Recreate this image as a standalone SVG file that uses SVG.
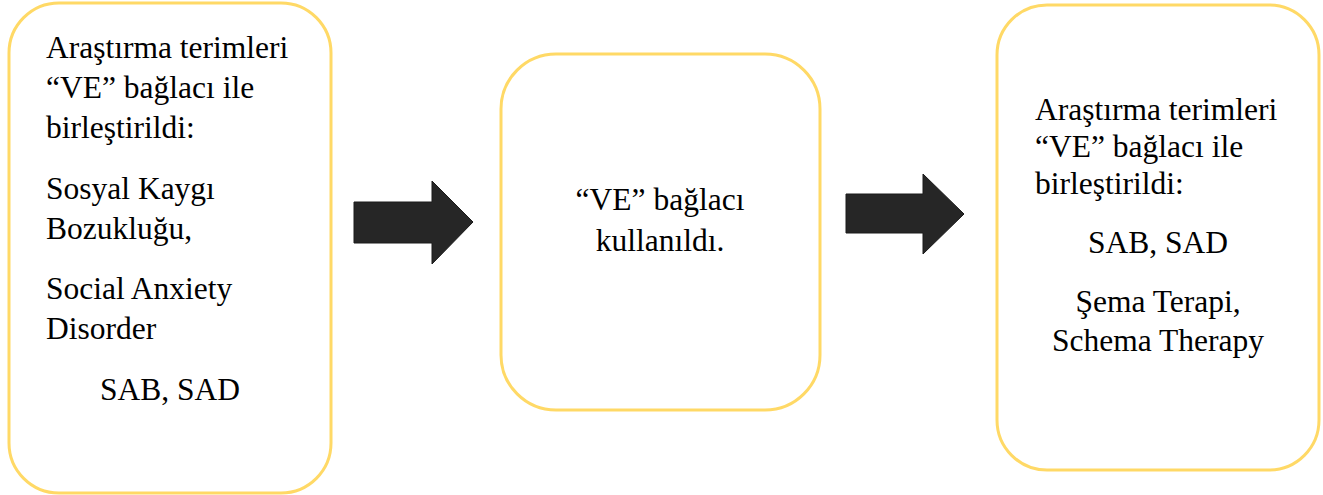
<svg xmlns="http://www.w3.org/2000/svg" width="1323" height="495" viewBox="0 0 1323 495">
<style>
.box{fill:#ffffff;stroke:#FFD966;stroke-width:3}
.t{font-family:"Liberation Serif","Times New Roman",serif;font-size:31.5px;fill:#000000}
.c{text-anchor:middle}
.arr{fill:#262626;stroke:#1a1a1a;stroke-width:1}
</style>
<rect width="1323" height="495" fill="#ffffff"/>
<g id="node1">
<rect class="box" x="9" y="3" width="322" height="490" rx="50" ry="50"/>
<text class="t" x="46" y="58">Araştırma terimleri</text>
<text class="t" x="46" y="98">“VE” bağlacı ile</text>
<text class="t" x="46" y="138">birleştirildi:</text>
<text class="t" x="46" y="199">Sosyal Kaygı</text>
<text class="t" x="46" y="239">Bozukluğu,</text>
<text class="t" x="46" y="299">Social Anxiety</text>
<text class="t" x="46" y="339">Disorder</text>
<text class="t c" x="170" y="400">SAB, SAD</text>
</g>
<g id="node2">
<rect class="box" x="501" y="54" width="319" height="356" rx="55" ry="55"/>
<text class="t c" x="660" y="210">“VE” bağlacı</text>
<text class="t c" x="660" y="251">kullanıldı.</text>
</g>
<g id="node3">
<rect class="box" x="997" y="5" width="322" height="465" rx="50" ry="50"/>
<text class="t" x="1035" y="120">Araştırma terimleri</text>
<text class="t" x="1035" y="157">“VE” bağlacı ile</text>
<text class="t" x="1035" y="194">birleştirildi:</text>
<text class="t c" x="1158" y="253">SAB, SAD</text>
<text class="t c" x="1158" y="312">Şema Terapi,</text>
<text class="t c" x="1158" y="351">Schema Therapy</text>
</g>
<g id="connectors">
<polygon class="arr" points="354,202 432,202 432,181 473,222 432,264 432,243 354,243"/>
<polygon class="arr" points="846,194 923,194 923,174 964,214 923,254 923,233 846,233"/>
</g>
</svg>
